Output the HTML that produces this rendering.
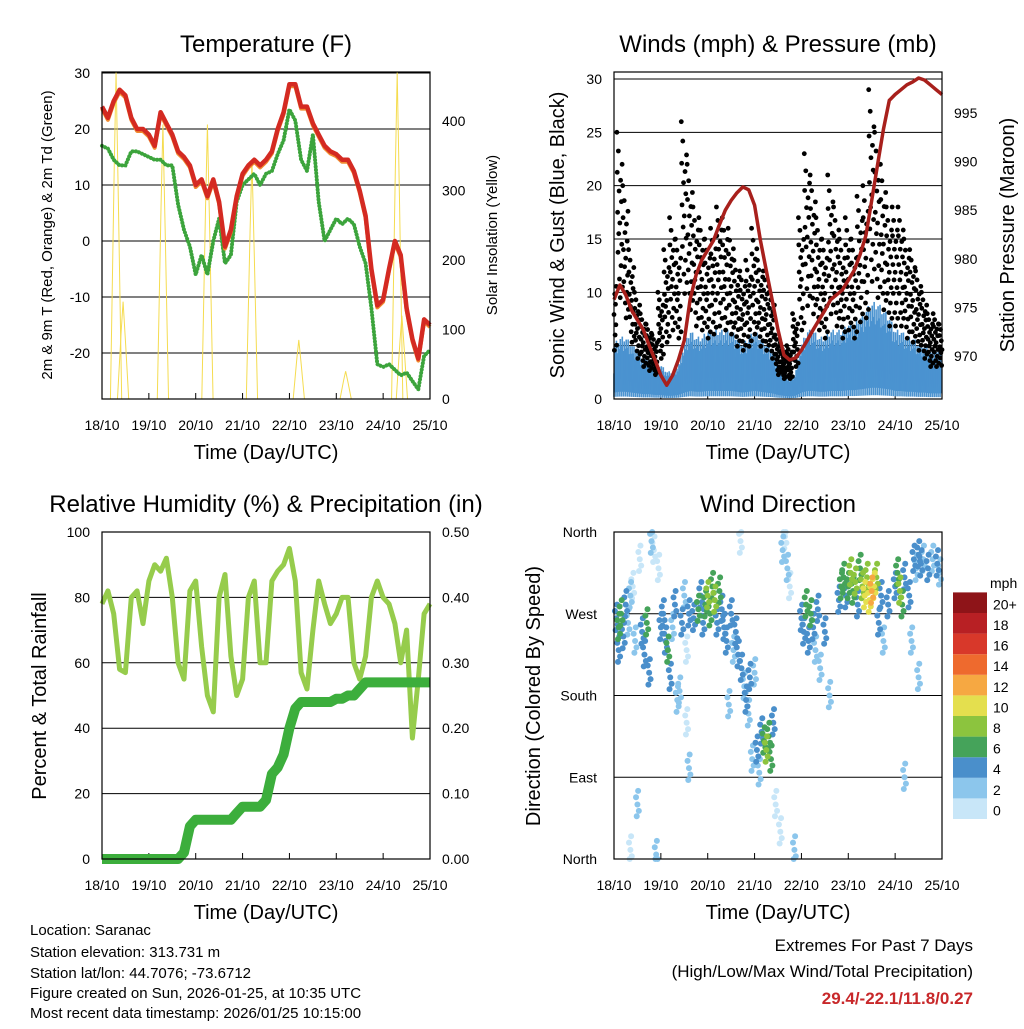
<!DOCTYPE html>
<html><head><meta charset="utf-8"><style>
html,body{margin:0;padding:0;background:#fff;}
svg text{font-family:"Liberation Sans",sans-serif;fill:#000;}
</style></head><body>
<svg id="s" width="1024" height="1024" viewBox="0 0 1024 1024" xmlns="http://www.w3.org/2000/svg">
<rect width="1024" height="1024" fill="#fff"/>
<g id="g"></g>
<text x="30" y="935" font-size="15">Location: Saranac</text>
<text x="30" y="957" font-size="15">Station elevation: 313.731 m</text>
<text x="30" y="978" font-size="15">Station lat/lon: 44.7076; -73.6712</text>
<text x="30" y="998" font-size="15">Figure created on Sun, 2026-01-25, at 10:35 UTC</text>
<text x="30" y="1018" font-size="15">Most recent data timestamp: 2026/01/25 10:15:00</text>
<text x="973" y="951" font-size="17" text-anchor="end">Extremes For Past 7 Days</text>
<text x="973" y="977" font-size="17" text-anchor="end">(High/Low/Max Wind/Total Precipitation)</text>
<text x="973" y="1004" font-size="17" font-weight="bold" text-anchor="end" style="fill:#c8282a">29.4/-22.1/11.8/0.27</text>
</svg>
<script>
const tempT=[24,22,25,27,26,22,20,20,19,17,23,21,19,16,15,13.5,10,11,8,11,7,-1,2,8,12,13.5,14.5,13.5,14.5,16,20,23,28,28,24,24,21,19,17,16,15.5,14.5,14.5,12.5,9,4.5,-5,-11.5,-10.5,-5,0,-2.5,-12,-17.5,-21,-14,-15];
const tempTd=[17,16.5,14.5,13.5,13.5,16,16,15.5,15,14.5,14.5,13.5,13.5,6.5,2,-1,-6,-2.5,-6,0,4,-4,-2.5,7,10,11,12,10,12,12.5,15.5,18,23.5,21.5,14.5,12.5,19,7,0,2,4,3,4,3,-1,-4,-12,-22,-22.5,-22,-23,-24,-23.5,-25,-26.5,-20.5,-19.5];
const solarDay=[0.3,0.45,1.3,2.25,3.2,4.2,5.2,6.3,6.4];
const solarVal=[470,140,395,395,345,85,40,470,120];
const pressure=[975.8,977.3,976.3,974.7,973.7,972.7,971.1,969.6,968,967,968,969.6,971.6,975.8,978.3,979.9,980.9,981.9,983.5,985,986,986.8,987.4,987.1,985.5,981.9,978.8,975.8,972.7,970.1,969.6,969.8,970.6,971.6,972.7,973.7,974.7,975.8,976.3,976.8,977.8,978.8,980.4,982.4,986,989.7,993.3,996.3,996.9,997.4,997.9,998.2,998.6,998.4,997.9,997.4,996.9];
const windMean=[4,4.5,4.5,4,3.5,3,3,2.5,2.5,2,2,2.5,4,5,4.5,4.5,5,5,5,5,5,4.5,4,4.5,5,4.5,4,3.5,2.5,2,1.5,2,4,5,5,4.5,4.5,5,5,5,5.5,5.5,6,6.5,7,7,6.5,6,5,5,4.5,4.5,4,4,3.5,3.5,3.5];
const gustMax=[12,25,20,14,10,8,7,6,10,14,17,15,26,22,18,17,15,16,18,17,16,13,12,13,16,13,12,10,6,5,5,8,17,23,21,17,15,21,18,15,17,15,19,20,29,25,22,18,18,18,15,14,12,10,8,8,7];
const rh=[78,82,75,58,57,80,82,72,85,90,88,92,80,60,55,82,85,65,50,45,80,87,62,50,55,80,85,60,60,85,88,90,95,85,57,52,70,85,78,72,75,80,80,60,55,62,80,85,80,78,72,60,70,37,55,75,78];
const precip=[0,0,0,0,0,0,0,0,0,0,0,0,0,0,0.01,0.05,0.06,0.06,0.06,0.06,0.06,0.06,0.06,0.07,0.08,0.08,0.08,0.08,0.09,0.13,0.14,0.16,0.2,0.23,0.24,0.24,0.24,0.24,0.24,0.24,0.245,0.245,0.25,0.25,0.26,0.27,0.27,0.27,0.27,0.27,0.27,0.27,0.27,0.27,0.27,0.27,0.27];
const dirDay=[0.05,0.1,0.15,0.2,0.25,0.1,0.3,0.35,0.4,0.45,0.55,0.6,0.65,0.7,0.75,0.8,0.85,0.9,0.95,1.0,1.05,1.1,1.15,1.2,1.25,1.3,1.35,1.4,1.45,1.5,1.55,1.6,1.7,1.8,1.85,1.9,1.95,2.0,2.05,2.1,2.15,2.2,2.25,2.3,2.35,2.4,2.45,2.5,2.55,2.6,2.65,2.7,2.72,2.78,2.82,2.87,2.9,2.95,3.0,3.05,3.1,3.15,3.2,3.25,3.3,3.35,3.4,3.45,3.55,3.6,3.65,3.7,3.75,3.85,4.0,4.05,4.1,4.15,4.2,4.25,4.3,4.35,4.4,4.5,4.6,4.8,4.85,4.9,4.95,5.0,5.05,5.1,5.15,5.2,5.25,5.3,5.35,5.4,5.45,5.5,5.55,5.6,5.65,5.7,5.75,5.85,6.0,6.05,6.1,6.15,6.2,6.3,6.35,6.4,6.45,6.5,6.55,6.6,6.7,6.8,6.9,6.95,6.5,6.2,0.5,0.35,1.55,1.6];
const dirDeg=[265,255,270,245,280,230,260,290,300,240,330,250,225,260,205,350,340,5,320,255,270,240,230,200,255,280,175,185,260,290,150,270,265,275,290,260,280,290,270,300,285,260,295,275,255,240,170,270,230,250,225,350,210,190,175,160,200,110,205,120,95,140,130,120,135,110,150,60,30,340,355,320,300,10,265,250,280,240,270,255,230,275,210,250,180,285,300,310,290,300,315,295,305,280,320,300,290,310,285,295,300,310,260,290,240,280,300,315,295,280,310,290,240,330,320,335,325,330,320,330,325,315,200,90,60,10,230,100];
const dirSpd=[4,5,6,4,3,3,2,1,0,1,0,3,4,5,3,1,0,1,0,4,3,4,5,3,2,3,2,1,4,1,0,3,4,5,4,3,6,7,6,5,7,4,6,3,4,3,2,3,2,4,3,0,3,2,4,2,3,1,2,3,1,4,6,7,6,5,3,0,0,1,0,1,0,1,3,4,5,4,6,3,2,4,2,3,1,4,5,6,3,5,7,6,8,4,6,7,9,8,10,11,9,7,3,4,2,3,4,6,7,5,4,3,2,3,2,4,3,2,3,2,3,1,1,1,1,0,0,1];
const dayTicks=['18/10','19/10','20/10','21/10','22/10','23/10','24/10','25/10'];
const tempTicks=[-20,-10,0,10,20,30];
const solarTicks=[0,100,200,300,400];
const windTicks=[0,5,10,15,20,25,30];
const presTicks=[970,975,980,985,990,995];
const rhTicks=[0,20,40,60,80,100];
const rainTicks=[0,0.1,0.2,0.3,0.4,0.5];
const dirTicks=['North','East','South','West','North'];
const cbLabels=['0','2','4','6','8','10','12','14','16','18','20+'];
const cbColors=['#c8e6f8','#8cc6ec','#4a8fcb','#45a35a','#8cc43e','#e4df4e','#f6a842','#ee6a2e','#d8382a','#b82024','#8e1418'];

const NS='http://www.w3.org/2000/svg';
const G=document.getElementById('g');
function el(tag,attrs,parent){const e=document.createElementNS(NS,tag);for(const k in attrs)e.setAttribute(k,attrs[k]);(parent||G).appendChild(e);return e;}
function txt(s,attrs,parent){const e=el('text',attrs,parent);e.textContent=s;return e;}
function lin(d0,d1,r0,r1){return v=>r0+(v-d0)/(d1-d0)*(r1-r0);}
function pts(arr,xf,yf){return arr.map((v,i)=>xf(i*7/(arr.length-1)).toFixed(1)+','+yf(v).toFixed(1)).join(' ');}

function panel(name,x0,x1,y0,y1,title){
  const g=el('g',{});
  
  
  const t=txt(title,{x:(x0+x1)/2,y:y0-20,'font-size':24,'text-anchor':'middle'},g);
  
  
  const xf=lin(0,7,x0,x1);
  dayTicks.forEach((s,i)=>{
    const tl=txt(s,{x:xf(i),y:y1+31,'font-size':14,'text-anchor':'middle'},g);
    
    
    el('line',{x1:xf(i),x2:xf(i),y1:y1,y2:y1-6,stroke:'#000'},g);
  });
  const xt=txt('Time (Day/UTC)',{x:(x0+x1)/2,y:y1+60,'font-size':20,'text-anchor':'middle'},g);
  
  
  return {g,xf};
}
function frame(g,x0,x1,y0,y1){const r=el('rect',{x:x0,y:y0,width:x1-x0,height:y1-y0,fill:'none',stroke:'#000','stroke-width':1.2},g);}
function yTicks(g,ticks,yf,x,side,fmt,grid,x0,x1){
  ticks.forEach(v=>{
    const y=yf(v);
    if(grid) el('line',{x1:x0,x2:x1,y1:y,y2:y,stroke:'#000','stroke-width':1},g);
    const l=txt(fmt?fmt(v):String(v),{x:side==='l'?x-12:x+12,y:y+5,'font-size':14,'text-anchor':side==='l'?'end':'start'},g);
    
    
  });
}
function yTitle(g,s,x,y,size,name){const t=txt(s,{x:x,y:y,'font-size':size,'text-anchor':'middle',transform:`rotate(-90 ${x} ${y})`},g);}

// Panel 1: Temperature
{
 const x0=102,x1=430,y0=72,y1=399;
 const {g,xf}=panel('temperature-panel',x0,x1,y0,y1,'Temperature (F)');
 const yf=lin(0,-10,241,297), sf=lin(0,400,399,121);
 yTicks(g,tempTicks,yf,x0,'l',null,true,x0,x1);
 yTicks(g,solarTicks,sf,x1,'r',null,false);
 const sg=el('g',{},g);
 
 
 solarDay.forEach((d,i)=>{
  const p=el('polyline',{points:`${xf(d-0.12)},${sf(0)} ${xf(d-0.04)},${sf(solarVal[i]*0.7)} ${xf(d)},${sf(solarVal[i])} ${xf(d+0.05)},${sf(solarVal[i]*0.6)} ${xf(d+0.12)},${sf(0)}`,fill:'none',stroke:'#f5dc50','stroke-width':1},sg);
  
  
 });
 const td=el('polyline',{points:pts(tempTd,xf,yf),fill:'none',stroke:'#3ca43c','stroke-width':4,'stroke-dasharray':'0.1,3.2','stroke-linecap':'round'},g);
 
 
 const o=el('polyline',{points:pts(tempT,xf,v=>yf(v)+2),fill:'none',stroke:'#f08a30','stroke-width':4,'stroke-linejoin':'round'},g);
 
 
 const r=el('polyline',{points:pts(tempT,xf,yf),fill:'none',stroke:'#d42a22','stroke-width':4.5,'stroke-linejoin':'round'},g);
 
 
 frame(g,x0,x1,y0,y1);
 yTitle(g,'2m & 9m T (Red, Orange) & 2m Td (Green)',52,235,15,'left-y-axis-title');
 yTitle(g,'Solar Insolation (Yellow)',497,235,15,'right-y-axis-title');
}
// Panel 2: Winds
{
 const x0=614,x1=942,y0=72,y1=399;
 const {g,xf}=panel('wind-pressure-panel',x0,x1,y0,y1,'Winds (mph) & Pressure (mb)');
 const yf=lin(0,30,399,79), pf=lin(970,995,356,113);
 yTicks(g,windTicks,yf,x0,'l',null,true,x0,x1);
 yTicks(g,presTicks,pf,x1,'r',null,false);
 const bg=el('g',{},g);
 
 
 const n=windMean.length;
 for(let i=0;i<n-1;i++){
  for(let k=0;k<12;k++){
   const d=(i+k/12)*7/(n-1);
   const m=windMean[i]+(windMean[i+1]-windMean[i])*k/12;
   const f=[0.6,1.25,0.8,1.1,0.5,1.3,0.7,1.0,0.55,1.2,0.85,1.05][k];
   el('line',{x1:xf(d),x2:xf(d),y1:yf(m*[0.05,0.3,0.15,0.4][k%4]),y2:yf(m*f),stroke:'#4b93d0','stroke-width':1.6},bg);
  }
 }
 const kg=el('g',{},g);
 
 
 const fr=[1,0.85,0.7,0.55,0.93,0.62,0.78,0.45,0.66,0.38,0.82,0.5,0.74,0.58,0.88,0.42];
 gustMax.forEach((v,i)=>{
  fr.forEach((f,k)=>{
   const d=i*7/(n-1)+(k-8)*0.008;
   if(d<0||d>7) return;
   const val=Math.max(windMean[i]*0.7,v*f);
   el('circle',{cx:xf(d),cy:yf(val),r:2.4,fill:'#000'},kg);
  });
 });
 const p=el('polyline',{points:pts(pressure,xf,pf),fill:'none',stroke:'#a8201c','stroke-width':3.5,'stroke-linejoin':'round'},g);
 
 
 frame(g,x0,x1,y0,y1);
 yTitle(g,'Sonic Wind & Gust (Blue, Black)',564,235,20,'left-y-axis-title');
 yTitle(g,'Station Pressure (Maroon)',1014,235,20,'right-y-axis-title');
}
// Panel 3: RH & precip
{
 const x0=102,x1=430,y0=532,y1=859;
 const {g,xf}=panel('humidity-precip-panel',x0,x1,y0,y1,'Relative Humidity (%) & Precipitation (in)');
 const yf=lin(0,100,859,532), pf=lin(0,0.5,859,532);
 yTicks(g,rhTicks,yf,x0,'l',null,true,x0,x1);
 yTicks(g,rainTicks,pf,x1,'r',v=>v.toFixed(2),false);
 const r=el('polyline',{points:pts(rh,xf,yf),fill:'none',stroke:'#96cc4c','stroke-width':5,'stroke-linejoin':'round'},g);
 
 
 const p=el('polyline',{points:pts(precip,xf,pf),fill:'none',stroke:'#3cae3c','stroke-width':10,'stroke-linejoin':'round'},g);
 
 
 frame(g,x0,x1,y0,y1);
 yTitle(g,'Percent & Total Rainfall',46,696,20,'left-y-axis-title');
}
// Panel 4: wind direction
{
 const x0=614,x1=942,y0=532,y1=859;
 const {g,xf}=panel('wind-direction-panel',x0,x1,y0,y1,'Wind Direction');
 const yf=lin(0,360,859,532);
 dirTicks.forEach((s,i)=>{
  const y=yf(i*90);
  if(i>0&&i<4) el('line',{x1:x0,x2:x1,y1:y,y2:y,stroke:'#000'},g);
  const l=txt(s,{x:x0-17,y:y+5,'font-size':14,'text-anchor':'end'},g);
  
  
 });
 const sg=el('g',{},g);
 
 
 const off=[[0,0],[-0.03,8],[0.03,-7],[0.015,15],[-0.015,-13]];
 const order=dirDay.map((d,i)=>i).sort((a,b)=>dirSpd[a]-dirSpd[b]);
 order.forEach(i=>{
  const c=cbColors[Math.min(10,Math.round(dirSpd[i]/2))];
  off.forEach(o=>{
   const d=dirDay[i]+o[0], deg=Math.min(360,Math.max(0,dirDeg[i]+o[1]));
   if(d<0||d>7) return;
   el('circle',{cx:xf(d),cy:yf(deg),r:3,fill:c},sg);
  });
 });
 frame(g,x0,x1,y0,y1);
 yTitle(g,'Direction (Colored By Speed)',540,696,20,'left-y-axis-title');
 const cb=el('g',{},g);
 
 
 const mt=txt('mph',{x:990,y:588,'font-size':14},cb);
 
 
 cbColors.forEach((c,i)=>{
  const y=819-(i+1)*20.6;
  el('rect',{x:953,y:y,width:34,height:20.6,fill:c},cb);
  const l=txt(cbLabels[i],{x:993,y:y+17,'font-size':14},cb);
  
  
 });
}
</script>
</body></html>
